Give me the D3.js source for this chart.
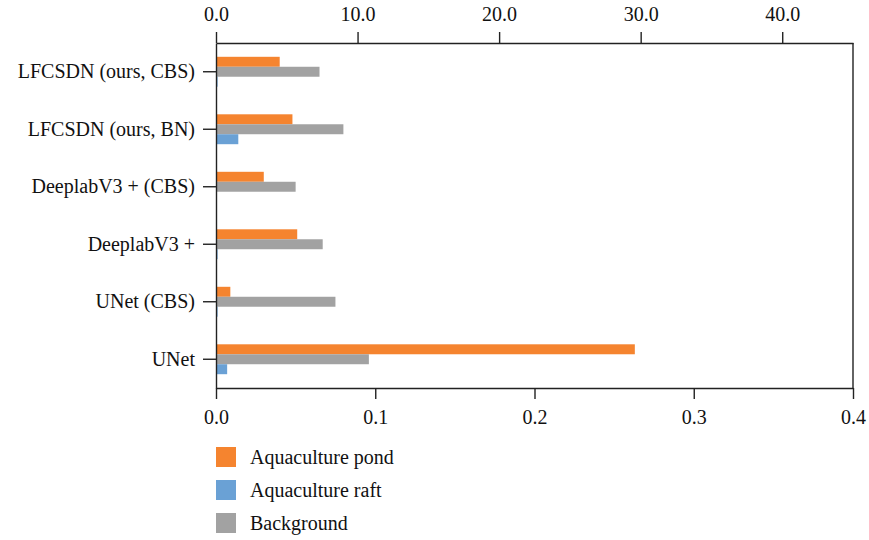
<!DOCTYPE html>
<html>
<head>
<meta charset="utf-8">
<script src="https://cdn.jsdelivr.net/npm/d3@7"></script>
<style>
  body { margin: 0; background: #fff; }
  svg text { font-family: "Liberation Serif", "DejaVu Serif", serif; fill: #111; }
</style>
</head>
<body>
<svg id="chart" width="869" height="540"></svg>
<script>
// categories, top to bottom
const categories = ["LFCSDN (ours, CBS)", "LFCSDN (ours, BN)", "DeeplabV3 + (CBS)", "DeeplabV3 +", "UNet (CBS)", "UNet"];
const series = ["Aquaculture pond", "Background", "Aquaculture raft"];
const pondValues = [0.040, 0.048, 0.030, 0.051, 0.009, 0.263];
const backgroundValues = [0.065, 0.080, 0.050, 0.067, 0.075, 0.096];
const raftValues = [0.001, 0.014, 0.000, 0.001, 0.001, 0.007];
const bottomTicks = [0.0, 0.1, 0.2, 0.3, 0.4];
const topTicks = [0, 10, 20, 30, 40];
const legendOrder = ["Aquaculture pond", "Aquaculture raft", "Background"];

const colors = {
	"Aquaculture pond": "#f5842f",
	"Aquaculture raft": "#6aa1d5",
	"Background": "#a2a2a2"
};

const valuesBySeries = {
	"Aquaculture pond": pondValues,
	"Background": backgroundValues,
	"Aquaculture raft": raftValues
};

const margin = {top: 43, right: 16, bottom: 152, left: 216};
const width = 869 - margin.left - margin.right;
const height = 540 - margin.top - margin.bottom;
const fontSize = 20;

const svg = d3.select("#chart");
const g = svg.append("g").attr("transform", `translate(${margin.left},${margin.top})`);

const x = d3.scaleLinear().domain([0, 0.4]).range([0, width]);
const xTop = d3.scaleLinear().domain([0, 45]).range([0, width]);
const y = d3.scaleBand().domain(categories).range([0, height]).paddingInner(0.48).paddingOuter(0.24);
const ySub = d3.scaleBand().domain(series).range([0, y.bandwidth()]);

// bars
categories.forEach((cat, i) => {
	const row = g.append("g").attr("transform", `translate(0,${y(cat)})`);
	series.forEach((s) => {
		row.append("rect")
		.attr("x", 0)
		.attr("y", ySub(s))
		.attr("width", x(valuesBySeries[s][i]))
		.attr("height", ySub.bandwidth())
		.attr("fill", colors[s]);
	});
});

const lineColor = "#222";

// bottom axis
const xAxis = g.append("g")
.attr("transform", `translate(0,${height})`)
.call(d3.axisBottom(x).tickValues(bottomTicks).tickFormat(d3.format(".1f")).tickSize(11).tickSizeOuter(0));

// top axis
const xAxisTop = g.append("g")
.call(d3.axisTop(xTop).tickValues(topTicks).tickFormat(d3.format(".1f")).tickSize(11).tickSizeOuter(0));

// left axis
const yAxis = g.append("g")
.call(d3.axisLeft(y).tickSize(13).tickSizeOuter(0).tickPadding(8));

[xAxis, xAxisTop, yAxis].forEach((ax) => {
	ax.select(".domain").attr("stroke", lineColor).attr("stroke-width", 1.4);
	ax.selectAll(".tick line").attr("stroke", lineColor).attr("stroke-width", 1.4);
	ax.selectAll(".tick text").attr("font-size", fontSize).attr("fill", "#111")
	.style("font-family", "'Liberation Serif', 'DejaVu Serif', serif");
});
xAxis.selectAll(".tick text").attr("dy", "1.1em");
xAxisTop.selectAll(".tick text").attr("dy", "-0.4em");

// right border
g.append("line")
.attr("x1", width).attr("x2", width)
.attr("y1", 0).attr("y2", height)
.attr("stroke", lineColor).attr("stroke-width", 1.4);

// legend
const legend = svg.append("g").attr("transform", "translate(216,447)");
legendOrder.forEach((s, i) => {
	const item = legend.append("g").attr("transform", `translate(0,${i * 33})`);
	item.append("rect").attr("width", 20).attr("height", 20).attr("fill", colors[s]);
	item.append("text").attr("x", 34).attr("y", 10).attr("dy", "0.35em")
	.attr("font-size", fontSize).text(s);
});
</script>
</body>
</html>
